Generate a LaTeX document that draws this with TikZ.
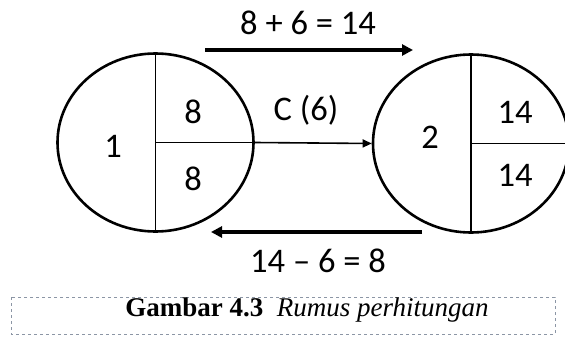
\documentclass[tikz,border=0pt]{standalone}
\usepackage{fontspec}
\setmainfont{Liberation Serif}
\newfontfamily\numfont{Carlito}
\usepackage{tikz}
\usetikzlibrary{shapes.geometric,arrows.meta,positioning}

\definecolor{boxgray}{RGB}{140,150,165}

\begin{document}
\begin{tikzpicture}[
    x=1pt, y=-1pt,
    event/.style={ellipse, draw, line width=2.6pt, inner sep=0pt, minimum width=196pt, minimum height=178pt},
    divider/.style={line width=1.6pt},
    num/.style={font=\numfont\fontsize{34.5}{36}\selectfont, inner sep=0pt},
    bigarrow/.style={-{Triangle[length=11pt,width=11pt]}, line width=3.6pt},
    thinarrow/.style={-{Triangle[length=9pt,width=8pt]}, line width=1.6pt},
    capbox/.style={draw=boxgray, dashed, line width=0.8pt}
]
\useasboundingbox (0,0) rectangle (565,337);

\node[event] (ev1) at (155.5,142.5) {};
\node[event] (ev2) at (471,143.5) {};

\draw[divider] (ev1.north) -- (ev1.south);
\draw[divider] (ev1.center) -- (ev1.east);
\draw[divider] (ev2.north) -- (ev2.south);
\draw[divider] (ev2.center) -- (ev2.east);

\node[num] (n1) at (113,146) {1};
\node[num] (es1) at (193,112) {8};
\node[num] (ls1) at (193,179) {8};
\node[num] (n2) at (430,137) {2};
\node[num] (es2) at (515,112) {14};
\node[num] (ls2) at (515,175) {14};

\coordinate (fwdA) at (205,50);
\coordinate (fwdB) at (413,50);
\coordinate (bwdA) at (422,232);
\coordinate (bwdB) at (211,232);

\node[num] (fwdlabel) at (308,23) {8 + 6 = 14};
\node[num] (actlabel) at (306,110) {C (6)};
\node[num] (bwdlabel) at (318,261) {14 \textendash{} 6 = 8};

\draw[bigarrow] (fwdA) -- (fwdB);
\draw[thinarrow] (ev1.east) -- (ev2.west);
\draw[bigarrow] (bwdA) -- (bwdB);

\draw[capbox] (11,297) rectangle (555,334);
\node[font=\fontsize{27}{29}\selectfont] (caption) at (307,310) {\textbf{Gambar 4.3}\ \ \textit{Rumus perhitungan}};
\end{tikzpicture}
\end{document}
